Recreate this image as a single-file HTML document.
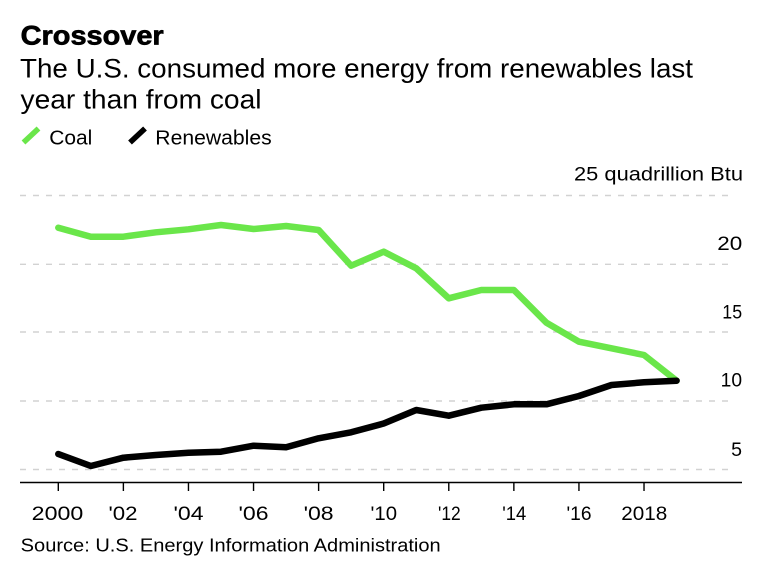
<!DOCTYPE html>
<html>
<head>
<meta charset="utf-8">
<style>
  html, body { margin: 0; padding: 0; background: #fff; }
  svg { display: block; }
  text { font-family: "Liberation Sans", Arial, sans-serif; fill: #000; }
</style>
</head>
<body>
<svg width="766" height="572" viewBox="0 0 766 572" xmlns="http://www.w3.org/2000/svg">
  <rect width="766" height="572" fill="#fff"/>

  <!-- Title -->
  <text x="20.7" y="44.3" font-size="27" font-weight="bold" stroke="#000" stroke-width="0.7" textLength="143" lengthAdjust="spacingAndGlyphs">Crossover</text>
  <text x="20" y="77.3" font-size="27" textLength="673" lengthAdjust="spacingAndGlyphs">The U.S. consumed more energy from renewables last</text>
  <text x="20.5" y="108.3" font-size="27" textLength="241" lengthAdjust="spacingAndGlyphs">year than from coal</text>

  <!-- Legend -->
  <line x1="23.5" y1="142.5" x2="38.5" y2="128.5" stroke="#6ae64a" stroke-width="5.5"/>
  <text x="49.3" y="144.5" font-size="20" textLength="43" lengthAdjust="spacingAndGlyphs">Coal</text>
  <line x1="130" y1="142.5" x2="145" y2="128.5" stroke="#000" stroke-width="5.5"/>
  <text x="155.3" y="144.5" font-size="20" textLength="116.4" lengthAdjust="spacingAndGlyphs">Renewables</text>

  <!-- Gridlines -->
  <g stroke="#d2d2d2" stroke-width="1.4" stroke-dasharray="6 7">
    <line x1="20" y1="195.5" x2="735" y2="195.5"/>
    <line x1="20" y1="264.3" x2="735" y2="264.3"/>
    <line x1="20" y1="332" x2="735" y2="332"/>
    <line x1="20" y1="401" x2="735" y2="401"/>
    <line x1="20" y1="469.5" x2="735" y2="469.5"/>
  </g>

  <!-- Y labels -->
  <text x="574" y="180.7" font-size="19" textLength="169" lengthAdjust="spacingAndGlyphs">25 quadrillion Btu</text>
  <text x="717.3" y="250" font-size="19" textLength="25" lengthAdjust="spacingAndGlyphs">20</text>
  <text x="722.3" y="318.3" font-size="19" textLength="19.8" lengthAdjust="spacingAndGlyphs">15</text>
  <text x="720.7" y="386.3" font-size="19" textLength="21.4" lengthAdjust="spacingAndGlyphs">10</text>
  <text x="731.2" y="456" font-size="19" textLength="10.9" lengthAdjust="spacingAndGlyphs">5</text>

  <!-- Axis -->
  <line x1="20" y1="482.5" x2="742" y2="482.5" stroke="#000" stroke-width="1.4"/>
  <g stroke="#000" stroke-width="1.4">
    <line x1="58.3" y1="482.5" x2="58.3" y2="491"/>
    <line x1="123.38" y1="482.5" x2="123.38" y2="491"/>
    <line x1="188.46" y1="482.5" x2="188.46" y2="491"/>
    <line x1="253.54" y1="482.5" x2="253.54" y2="491"/>
    <line x1="318.62" y1="482.5" x2="318.62" y2="491"/>
    <line x1="383.7" y1="482.5" x2="383.7" y2="491"/>
    <line x1="448.78" y1="482.5" x2="448.78" y2="491"/>
    <line x1="513.86" y1="482.5" x2="513.86" y2="491"/>
    <line x1="578.94" y1="482.5" x2="578.94" y2="491"/>
    <line x1="644.02" y1="482.5" x2="644.02" y2="491"/>
  </g>

  <!-- X labels -->
  <g font-size="19">
    <text x="31.7" y="520" textLength="51.6" lengthAdjust="spacingAndGlyphs">2000</text>
    <text x="108.5" y="520" textLength="29" lengthAdjust="spacingAndGlyphs">'02</text>
    <text x="173.5" y="520" textLength="30" lengthAdjust="spacingAndGlyphs">'04</text>
    <text x="238.5" y="520" textLength="30" lengthAdjust="spacingAndGlyphs">'06</text>
    <text x="303.6" y="520" textLength="30" lengthAdjust="spacingAndGlyphs">'08</text>
    <text x="370.5" y="520" textLength="26.5" lengthAdjust="spacingAndGlyphs">'10</text>
    <text x="438" y="520" textLength="22.7" lengthAdjust="spacingAndGlyphs">'12</text>
    <text x="502.3" y="520" textLength="24" lengthAdjust="spacingAndGlyphs">'14</text>
    <text x="566.5" y="520" textLength="25" lengthAdjust="spacingAndGlyphs">'16</text>
    <text x="621.3" y="520" textLength="46" lengthAdjust="spacingAndGlyphs">2018</text>
  </g>

  <!-- Coal -->
  <polyline fill="none" stroke="#6ae64a" stroke-width="6.5" stroke-linejoin="round" stroke-linecap="round"
    points="58.3,227.7 90.84,236.7 123.38,236.7 155.92,232.3 188.46,229.3 221,225 253.54,229 286.08,226 318.62,230 351.16,265.7 383.7,251.7 416.24,268.3 448.78,298.3 481.32,290 513.86,290 546.4,322.7 578.94,341.7 611.48,348.3 644.02,355 676.56,380.7"/>

  <!-- Renewables -->
  <polyline fill="none" stroke="#000" stroke-width="6.5" stroke-linejoin="round" stroke-linecap="round"
    points="58.3,454 90.84,466 123.38,457.7 155.92,455 188.46,452.7 221,451.7 253.54,445.7 286.08,447.3 318.62,438.3 351.16,432.3 383.7,423.5 416.24,410 448.78,415.7 481.32,407.7 513.86,404.3 546.4,404.3 578.94,396 611.48,385 644.02,382.3 676.56,380.7"/>

  <!-- Source -->
  <text x="20.7" y="551.7" font-size="18" textLength="420" lengthAdjust="spacingAndGlyphs">Source: U.S. Energy Information Administration</text>
</svg>
</body>
</html>
